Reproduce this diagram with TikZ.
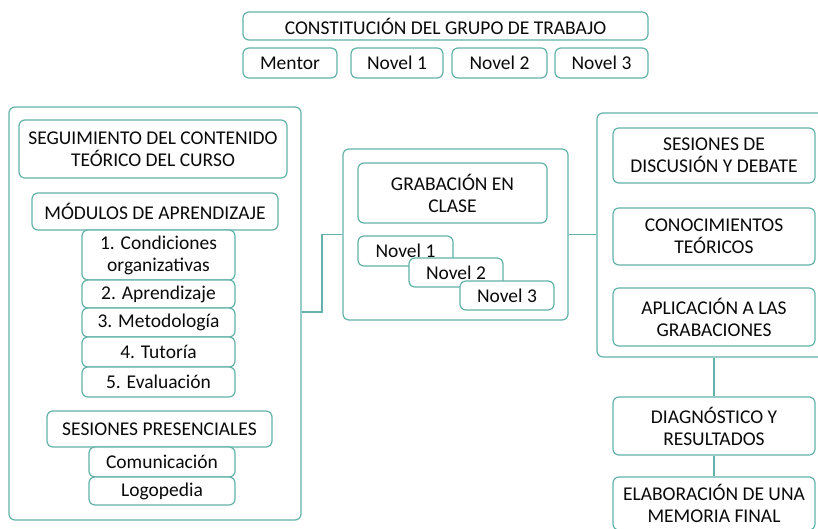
\documentclass[tikz,border=0pt]{standalone}
\usepackage{fontspec}
\setmainfont{Carlito}
\definecolor{tl}{RGB}{98,178,170}
\definecolor{tx}{RGB}{10,10,10}
\tikzset{
  bx/.style={draw=tl, line width=1.2pt, rounded corners=6pt, fill=white, align=center,
    inner sep=0pt, text=tx, font=\fontsize{19.5}{22}\selectfont},
  ln/.style={draw=tl, line width=1.2pt},
}
\newcommand{\bxat}[6]{\node[bx, minimum width=#4, minimum height=#5] (#1) at (#2,#3) {#6};}
\begin{document}
\begin{tikzpicture}[x=1pt,y=-1pt]
\path[use as bounding box] (0,0) rectangle (818,528);
\clip (0,0) rectangle (818,528);
% top
\bxat{cgt}{445.5}{26}{405}{28}{CONSTITUCIÓN DEL GRUPO DE TRABAJO}
\bxat{mentor}{290}{63}{94}{30}{Mentor}
\bxat{nta}{397}{63}{92}{30}{Novel 1}
\bxat{ntb}{499.5}{63}{95}{30}{Novel 2}
\bxat{ntc}{601.5}{63}{93}{30}{Novel 3}
% left
\bxat{leftbox}{155}{313.5}{292}{413}{}
\bxat{seg}{153}{149}{268}{58}{SEGUIMIENTO DEL CONTENIDO\\TEÓRICO DEL CURSO}
\bxat{mod}{155}{211.5}{246}{37}{MÓDULOS DE APRENDIZAJE}
\bxat{ma}{158.5}{255}{153}{50}{1. Condiciones\\organizativas}
\bxat{mb}{158.5}{294}{153}{28}{2. Aprendizaje}
\bxat{mc}{158.5}{322.5}{153}{29}{3. Metodología}
\bxat{md}{158.5}{352}{153}{30}{4. Tutoría}
\bxat{me}{158.5}{382}{153}{30}{5. Evaluación}
\bxat{ses}{159.5}{429}{225}{36}{SESIONES PRESENCIALES}
\bxat{com}{162}{462}{146}{30}{Comunicación}
\bxat{logo}{162}{491}{146}{28}{Logopedia}
% middle
\bxat{midbox}{455.5}{234.5}{225}{171}{}
\bxat{grab}{452.5}{193}{189}{60}{GRABACIÓN EN\\CLASE}
\bxat{ga}{405.5}{251}{95}{30}{Novel 1}
\bxat{gb}{456}{272.5}{94}{29}{Novel 2}
\bxat{gc}{507}{295.5}{94}{29}{Novel 3}
% right
\bxat{rightbox}{718.5}{235}{243}{244}{}
\bxat{sdd}{714}{155.5}{202}{55}{SESIONES DE\\DISCUSIÓN Y DEBATE}
\bxat{con}{714}{236.5}{202}{57}{CONOCIMIENTOS\\TEÓRICOS}
\bxat{apl}{714}{317}{202}{58}{APLICACIÓN A LAS\\GRABACIONES}
\bxat{diag}{714}{426}{202}{58}{DIAGNÓSTICO Y\\RESULTADOS}
\bxat{elab}{714}{503.5}{202}{53}{ELABORACIÓN DE UNA\\MEMORIA FINAL}
% connectors
\coordinate (ja) at (322,312);
\draw[ln] (leftbox.east |- ja) -- (ja) |- (midbox.west);
\draw[ln] (midbox.east) -- (rightbox.west |- midbox.east);
\draw[ln] (diag.north |- rightbox.south) -- (diag.north);
\draw[ln] (diag.south) -- (elab.north);
\end{tikzpicture}
\end{document}
